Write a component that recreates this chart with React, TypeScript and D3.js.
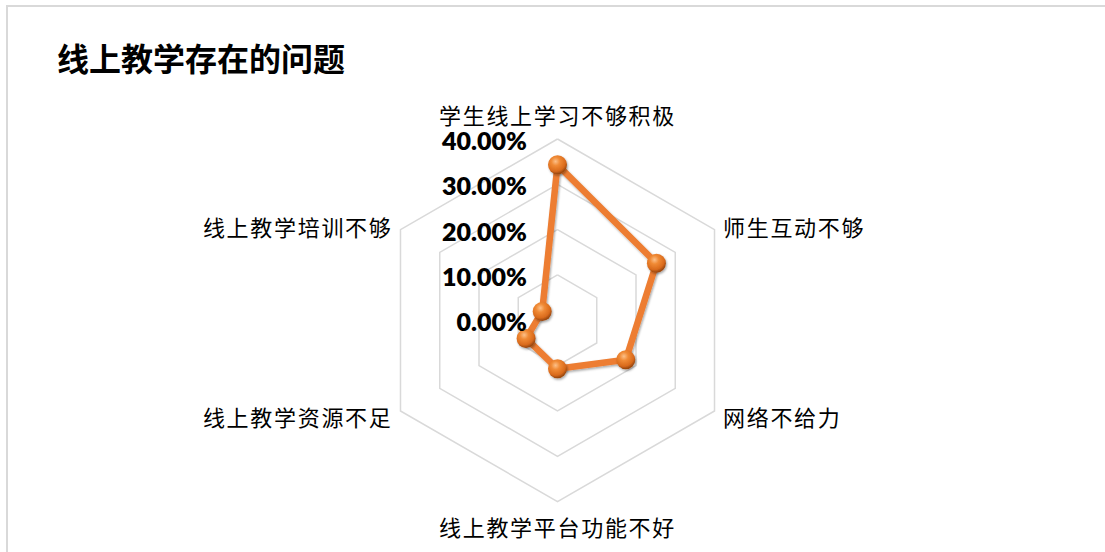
import React from "react";
import * as d3 from "d3";

const title = "线上教学存在的问题";
const categories = [
  "学生线上学习不够积极",
  "师生互动不够",
  "网络不给力",
  "线上教学平台功能不好",
  "线上教学资源不足",
  "线上教学培训不够",
];
const values = [0.343, 0.252, 0.174, 0.107, 0.08, 0.039];
const ticks = [0, 0.1, 0.2, 0.3, 0.4];

const W = 1105;
const H = 552;
const cx = 557.5;
const cy = 320.3;
const R = 181.3;

export default function App() {
  const r = d3.scaleLinear().domain([0, 0.4]).range([0, R]);
  const n = categories.length;
  const angle = (i: number) => (i * 2 * Math.PI) / n;
  const pt = (i: number, v: number): [number, number] => [
    cx + r(v) * Math.sin(angle(i)),
    cy - r(v) * Math.cos(angle(i)),
  ];
  const ringPath = (v: number) =>
    d3.line()(d3.range(n + 1).map((i) => pt(i % n, v))) as string;
  const dataPath = d3
    .line()
    .curve(d3.curveLinearClosed)(values.map((v, i) => pt(i, v))) as string;
  const fmt = d3.format(".2%");

  const labelPos = (i: number) => {
    const [vx, vy] = pt(i, 0.4);
    const s = Math.sin(angle(i));
    const c = Math.cos(angle(i));
    if (Math.abs(s) < 0.01) {
      return { x: vx, y: c > 0 ? vy - 25 : vy + 24, anchor: "middle" };
    }
    return {
      x: vx + (s > 0 ? 8.5 : -8),
      y: vy + (c > 0 ? -3.5 : 5),
      anchor: s > 0 ? "start" : "end",
    };
  };

  return (
    <svg
      width={W}
      height={H}
      style={{ position: "absolute", left: 0, top: 0, background: "#fff" }}
    >
      <defs>
        <radialGradient id="ball" cx="40%" cy="32%" r="65%">
          <stop offset="0%" stopColor="#FCC089" />
          <stop offset="35%" stopColor="#F08A35" />
          <stop offset="80%" stopColor="#D96A1C" />
          <stop offset="100%" stopColor="#9E4A10" />
        </radialGradient>
        <filter id="shadow" x="-50%" y="-50%" width="200%" height="200%">
          <feDropShadow dx="1" dy="1.5" stdDeviation="1.2" floodColor="#000" floodOpacity="0.35" />
        </filter>
      </defs>
      <rect x={7} y={6} width={W + 20} height={H + 20} fill="#fff" stroke="#D9D9D9" strokeWidth={2} />
      <text
        x={57}
        y={57}
        fontFamily="'Noto Sans CJK SC', sans-serif"
        fontWeight={700}
        fontSize={32}
        dominantBaseline="central"
        fill="#000"
      >
        {title}
      </text>
      {ticks.slice(1).map((t) => (
        <path key={t} d={ringPath(t)} fill="none" stroke="#D9D9D9" strokeWidth={1.5} />
      ))}
      <path
        d={dataPath}
        fill="none"
        stroke="#ED7D31"
        strokeWidth={6.5}
        strokeLinejoin="round"
        filter="url(#shadow)"
      />
      {values.map((v, i) => {
        const [x, y] = pt(i, v);
        return (
          <circle key={i} cx={x} cy={y} r={9.5} fill="url(#ball)" filter="url(#shadow)" />
        );
      })}
      {ticks.map((t) => (
        <text
          key={t}
          x={527}
          y={cy - r(t) + 1}
          textAnchor="end"
          dominantBaseline="central"
          fontFamily="Lato, 'Liberation Sans', sans-serif"
          fontWeight={800}
          fontSize={25}
          fill="#000"
        >
          {fmt(t)}
        </text>
      ))}
      {categories.map((c, i) => {
        const p = labelPos(i);
        return (
          <text
            key={c}
            x={p.x}
            y={p.y}
            textAnchor={p.anchor as any}
            dominantBaseline="central"
            fontFamily="'Noto Sans CJK SC', sans-serif"
            fontSize={22}
            letterSpacing={1.7}
            fill="#000"
          >
            {c}
          </text>
        );
      })}
    </svg>
  );
}
